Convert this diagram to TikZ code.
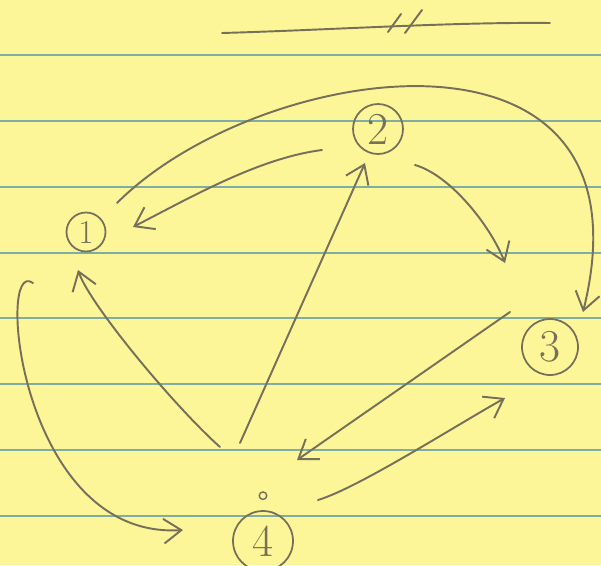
\documentclass[tikz,border=0pt]{standalone}
\usepackage{tikz}
\usetikzlibrary{arrows.meta, positioning}

\definecolor{paper}{RGB}{252,246,152}
\definecolor{ruling}{RGB}{128,172,166}
\definecolor{pencil}{RGB}{118,112,90}

\begin{document}
\begin{tikzpicture}[
        x=0.02cm, y=-0.02cm,
        vertex/.style={circle, draw=pencil, line width=1pt, inner sep=0pt, text=pencil, font=\fontsize{26}{26}\selectfont},
        edge/.style={draw=pencil, line width=1.1pt, line cap=round, -{Straight Barb[length=10pt, width=14pt]}},
        pen/.style={draw=pencil, line width=1.1pt, line cap=round}
    ]

    % Paper and ruling
    \fill[paper] (0,0) rectangle (601,565);
    \useasboundingbox (0,0) rectangle (601,565);
    \foreach \y in {55,121,187,253,318,384,450,516}
        \draw[ruling, line width=1.5pt] (0,\y) -- (601,\y);

    % Rule at the top
    \coordinate (lineL) at (222,33);
    \coordinate (lineR) at (550,23);
    \draw[pen] (lineL) .. controls (330,30) and (450,22) .. (lineR);
    \draw[pen] (388,32) -- (401,14);
    \draw[pen] (405,33) -- (422,10);

    % States
    \node[vertex, minimum size=0.78cm, font=\fontsize{19}{19}\selectfont] (n1) at (86,232) {1};
    \node[vertex, minimum size=1.0cm] (n2) at (378,129) {2};
    \node[vertex, minimum size=1.12cm] (n3) at (550,347) {3};
    \node[vertex, minimum size=1.2cm] (n4) at (263,541) {4};
    \node[circle, draw=pencil, line width=0.8pt, minimum size=0.15cm, inner sep=0pt, above=0.2cm of n4] (mark4) {};

    % Transitions
    \draw[edge] ([shift={(31,-29)}]n1.center) .. controls +(143,-143) and +(77,-312) .. ([shift={(33,-35)}]n3.center);
    \draw[edge] ([shift={(-56,21)}]n2.center) .. controls +(-62,8) and +(62,-32) .. ([shift={(47,-5)}]n1.center);
    \draw[edge] ([shift={(37,36)}]n2.center) .. controls +(35,10) and +(-15,-38) .. ([shift={(-45,-84)}]n3.center);
    \draw[edge] ([shift={(-40,-35)}]n3.center) -- ([shift={(34,-81)}]n4.center);
    \draw[edge] ([shift={(55,-41)}]n4.center) .. controls +(40,-12) and +(-50,28) .. ([shift={(-45,51)}]n3.center);
    \draw[edge] ([shift={(-23,-98)}]n4.center) -- ([shift={(-13,34)}]n2.center);
    \draw[edge] ([shift={(-43,-94)}]n4.center) .. controls +(-45,-40) and +(12,35) .. ([shift={(-8,38)}]n1.center);
    \draw[edge] ([shift={(-53,51)}]n1.center) .. controls +(-38,-28) and +(-163,10) .. ([shift={(-80,-11)}]n4.center);

\end{tikzpicture}
\end{document}
